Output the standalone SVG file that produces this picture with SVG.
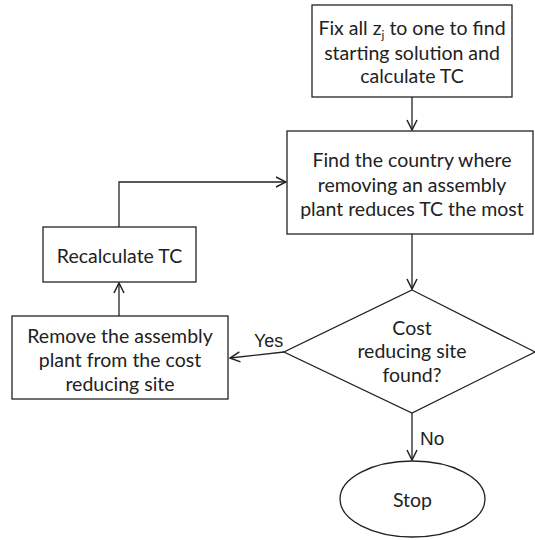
<svg xmlns="http://www.w3.org/2000/svg" width="535" height="540" viewBox="0 0 535 540">
<style>
.box{fill:#fff;stroke:#222;stroke-width:1.3}
.t{font-family:Lato,"Liberation Sans",sans-serif;font-size:19.5px;fill:#222;text-anchor:middle}
.lbl{font-family:"Liberation Sans",Arial,sans-serif;fill:#222}
.c{fill:none;stroke:#222;stroke-width:1.3;marker-end:url(#ah)}
</style>
<defs>
<marker id="ah" viewBox="0 0 12 12" refX="11" refY="6" markerWidth="12" markerHeight="12" markerUnits="userSpaceOnUse" orient="auto">
<polyline points="1,1 11,6 1,11" fill="none" stroke="#222" stroke-width="1.5"/>
</marker>
</defs>
<rect width="535" height="540" fill="#fff"/>
<g id="connectors">
<line class="c" x1="412" y1="97" x2="412" y2="130"/>
<polyline class="c" points="119,227 119,182 286,182"/>
<line class="c" x1="412" y1="234" x2="412" y2="289"/>
<line class="c" x1="284" y1="352" x2="230" y2="358"/>
<line class="c" x1="119" y1="316" x2="119" y2="283"/>
<line class="c" x1="412" y1="413" x2="412" y2="460"/>
<text class="lbl" x="254" y="347" font-size="18">Yes</text>
<text class="lbl" x="420" y="445" font-size="19">No</text>
</g>
<g id="n1">
<rect class="box" x="312" y="5" width="200" height="92"/>
<text class="t" x="412" y="35">Fix all z<tspan font-size="12" dy="4">j</tspan><tspan dy="-4"> to one to find</tspan></text>
<text class="t" x="412" y="60">starting solution and</text>
<text class="t" x="412" y="83">calculate TC</text>
</g>
<g id="n2">
<rect class="box" x="287" y="131" width="246" height="103"/>
<text class="t" x="412" y="167">Find the country where</text>
<text class="t" x="412" y="192">removing an assembly</text>
<text class="t" x="412" y="216">plant reduces TC the most</text>
</g>
<g id="n3">
<rect class="box" x="43" y="227" width="153" height="55"/>
<text class="t" x="119.5" y="263">Recalculate TC</text>
</g>
<g id="n4">
<rect class="box" x="12" y="316" width="216" height="83"/>
<text class="t" x="120" y="343">Remove the assembly</text>
<text class="t" x="120" y="367">plant from the cost</text>
<text class="t" x="120" y="391">reducing site</text>
</g>
<g id="n5">
<polygon class="box" points="412,290 535,352 412,413 284,352"/>
<text class="t" x="412" y="335">Cost</text>
<text class="t" x="412" y="358">reducing site</text>
<text class="t" x="412" y="382">found?</text>
</g>
<g id="n6">
<ellipse class="box" cx="412.5" cy="499" rx="72.5" ry="38"/>
<text class="t" x="412.5" y="507">Stop</text>
</g>
</svg>
